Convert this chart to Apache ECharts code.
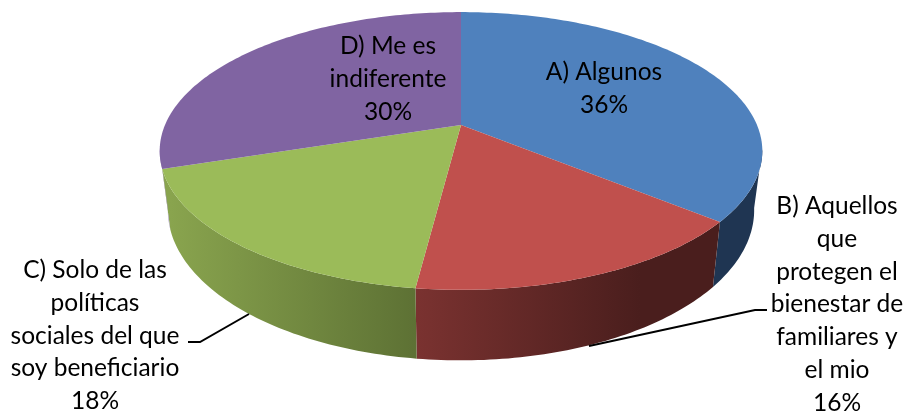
<!DOCTYPE html>
<html>
<head>
<meta charset="utf-8" />
<style>
  html, body { margin: 0; padding: 0; background: #ffffff; }
  #chart { width: 906px; height: 413px; }
</style>
<script src="https://cdn.jsdelivr.net/npm/echarts@6/dist/echarts.min.js"></script>
</head>
<body>
<div id="chart"></div>
<script>
const categories = [
  "A) Algunos",
  "B) Aquellos\nque\nprotegen el\nbienestar de\nfamiliares y\nel mio",
  "C) Solo de las\npolíticas\nsociales del que\nsoy beneficiario",
  "D) Me es\nindiferente",
];
const values = [36, 16, 18, 30];

const topColors = ["#4f81bd", "#c0504d", "#9bbb59", "#8064a2"];
// 侧面的渐变：左端颜色、右端颜色、左右端的 x
const sideStyles = [
  ["#1f3552", "#1f3552", 700, 770],
  ["#7a3230", "#4a1e1d", 417, 640],
  ["#89a44e", "#5d7134", 170, 417],
  ["#a99bc0", "#a99bc0", 160, 461],
];
// 标签中心位置（第一行的 y）
const labelPos = [
  [604, 72],
  [837, 206],
  [95, 270],
  [388, 46],
];
const leaderLines = [
  [[589, 346], [755, 310], [767, 310]],
  [[188, 342], [200, 342], [249, 314]],
];

const LINE_HEIGHT = 32.8;
const total = values.reduce((a, b) => a + b, 0);

// 透视：饼的上表面和下表面各一个平面
const topPlane = { cx: 461, cy: 125, a: 296, b: 134, k: 0.187 };
const bottomPlane = { cx: 461, cy: 182, a: 288, b: 145, k: 0.187 };
// 侧面只有这段角度朝向观察者
const sideFrom = (100 / 180) * Math.PI;
const sideTo = (260 / 180) * Math.PI;

const project = (plane, theta, r) => {
  const u = r * Math.sin(theta);
  const v = r * Math.cos(theta);
  const w = 1 + plane.k * v;
  return [plane.cx + (plane.a * u) / w, plane.cy - (plane.b * v) / w];
};

const sliceAngles = (index) => {
  let before = 0;
  for (let i = 0; i < index; i++) before += values[i];
  return [
    (before / total) * Math.PI * 2,
    ((before + values[index]) / total) * Math.PI * 2,
  ];
};

const arcPoints = (plane, start, end) => {
  const steps = Math.max(2, Math.ceil(((end - start) * 180) / Math.PI));
  const points = [];
  for (let i = 0; i <= steps; i++) {
    points.push(project(plane, start + ((end - start) * i) / steps, 1));
  }
  return points;
};

const renderSide = (params) => {
  const i = params.dataIndex;
  const angles = sliceAngles(i);
  const start = Math.max(angles[0], sideFrom);
  const end = Math.min(angles[1], sideTo);
  if (end <= start) return null;
  const style = sideStyles[i];
  const points = arcPoints(topPlane, start, end).concat(
    arcPoints(bottomPlane, start, end).reverse()
  );
  return {
    type: "polygon",
    shape: { points },
    style: {
      fill: new echarts.graphic.LinearGradient(
        style[2], 0, style[3], 0,
        [
          { offset: 0, color: style[0] },
          { offset: 1, color: style[1] },
        ],
        true
      ),
    },
  };
};

const renderTop = (params) => {
  const i = params.dataIndex;
  const [start, end] = sliceAngles(i);
  const points = [project(topPlane, 0, 0)].concat(arcPoints(topPlane, start, end));
  return {
    type: "polygon",
    shape: { points },
    style: { fill: topColors[i] },
  };
};

const renderLabel = (params) => {
  const i = params.dataIndex;
  return {
    type: "text",
    style: {
      x: labelPos[i][0],
      y: labelPos[i][1] - LINE_HEIGHT / 2,
      text: categories[i] + "\n" + values[i] + "%",
      fill: "#000000",
      font: '24.5px Lato, "Open Sans", sans-serif',
      lineHeight: LINE_HEIGHT,
      align: "center",
      verticalAlign: "top",
    },
  };
};

const renderLeader = (params) => ({
  type: "polyline",
  shape: { points: leaderLines[params.dataIndex] },
  style: { stroke: "#000000", lineWidth: 2, fill: null },
});

const chart = echarts.init(document.getElementById("chart"));
chart.setOption({
  backgroundColor: "#ffffff",
  animation: false,
  series: [
    { type: "custom", coordinateSystem: "none", data: values, renderItem: renderSide, silent: true },
    { type: "custom", coordinateSystem: "none", data: values, renderItem: renderTop, silent: true },
    { type: "custom", coordinateSystem: "none", data: leaderLines.map((_, i) => i), renderItem: renderLeader, silent: true },
    { type: "custom", coordinateSystem: "none", data: values, renderItem: renderLabel, silent: true },
  ],
});
</script>
</body>
</html>
